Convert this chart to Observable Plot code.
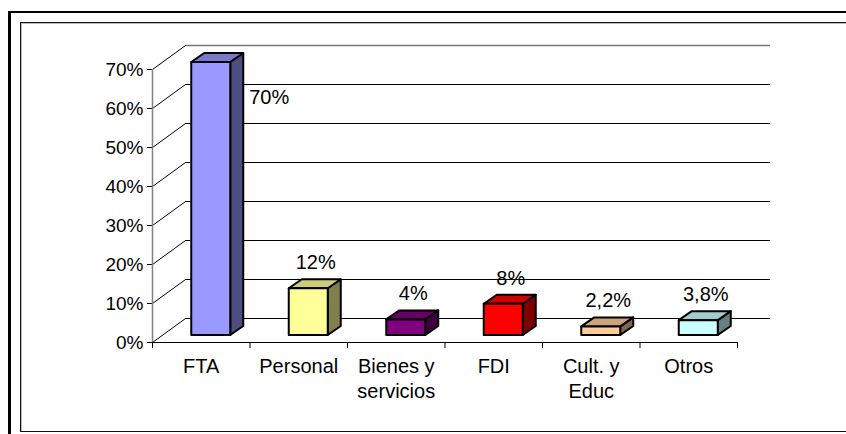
<!DOCTYPE html>
<html>
<head>
<meta charset="utf-8">
<script src="https://cdn.jsdelivr.net/npm/d3@7"></script>
<script src="https://cdn.jsdelivr.net/npm/@observablehq/plot@0.6"></script>
<style>
  html, body { margin: 0; padding: 0; overflow: hidden; background: #fff; width: 846px; height: 434px; }
  #wrap { position: relative; width: 846px; height: 434px; }
  #chart { position: absolute; left: 0; top: 0; }
  .outer { position: absolute; left: 8px; top: 11px; width: 2000px; height: 2000px;
           border-left: 3px solid #000; border-top: 2px solid #000; pointer-events: none; }
  .inner { position: absolute; left: 20px; top: 22px; width: 2000px; height: 408px;
           border: 1px solid #111; box-shadow: inset 1px 1px 0 #bbb; pointer-events: none; }
</style>
</head>
<body>
<div id="wrap">
  <div id="chart"></div>
  <div class="outer"></div>
  <div class="inner"></div>
</div>
<script>
// ---- data ----
const categories = ["FTA", "Personal", "Bienes y\nservicios", "FDI", "Cult. y\nEduc", "Otros"];
const values = [70, 12, 4, 8, 2.2, 3.8];
const valueLabels = ["70%", "12%", "4%", "8%", "2,2%", "3,8%"];
const frontColors = ["#9999FF", "#FFFF99", "#800080", "#FF0000", "#FFCC99", "#CCFFFF"];
const yTicks = [0, 10, 20, 30, 40, 50, 60, 70];

// ---- geometry (pixels) ----
const W = 846, H = 434;
const mL = 152, mR = 109, mT = 69, mB = 92;
const xDomain = [-0.5, categories.length - 0.5];
const yDomain = [0, 70];
const pxX = (W - mL - mR) / (xDomain[1] - xDomain[0]);
const pxY = (H - mT - mB) / (yDomain[1] - yDomain[0]);
const wallDx = 33 / pxX, wallDy = 24 / pxY;      // back wall offset in data units
const barDx = 13 / pxX, barDy = 9 / pxY;         // bar depth in data units
const half = 0.2;                                 // half bar width (band units)

function shade(c, k) { const r = d3.rgb(c); return d3.rgb(r.r * k, r.g * k, r.b * k).formatHex(); }

const bars = categories.map((c, i) => ({
  i, cat: c, v: values[i], label: valueLabels[i],
  front: frontColors[i], top: shade(frontColors[i], 0.8), side: shade(frontColors[i], 0.5)
}));

const sideData = bars.flatMap(b => [
  {i: b.i, c: b.side, x: b.i + half, y1: 0, y2: b.v},
  {i: b.i, c: b.side, x: b.i + half + barDx, y1: barDy, y2: b.v + barDy}
]);
const topData = bars.flatMap(b => [
  {i: b.i, c: b.top, y: b.v, x1: b.i - half, x2: b.i + half},
  {i: b.i, c: b.top, y: b.v + barDy, x1: b.i - half + barDx, x2: b.i + half + barDx}
]);
const boundaries = d3.range(categories.length + 1).map(k => k - 0.5);

const labDx = 17, labDy = -33;
const fits = b => b.v + (-labDy + 12) / pxY <= yDomain[1];

const shiftX = 10, shiftY = -7; // bar sits slightly behind the front plane
const barStyle = {stroke: "#000", strokeWidth: 2, strokeLinejoin: "round", dx: shiftX, dy: shiftY};
const font = "'Liberation Sans', Arial, sans-serif";

const chart = Plot.plot({
  width: W, height: H,
  marginLeft: mL, marginRight: mR, marginTop: mT, marginBottom: mB,
  x: {domain: xDomain, ticks: boundaries, tickFormat: () => "", tickSize: 6, label: null},
  y: {domain: yDomain, ticks: yTicks, tickFormat: d => d + "%", tickSize: 5, tickPadding: 4, label: null},
  color: {type: "identity"},
  style: {fontFamily: font, fontSize: "19px", background: "transparent", color: "#000", overflow: "visible"},
  marks: [
    // back wall gridlines
    Plot.ruleY(yTicks.slice(0, -1), {x1: xDomain[0], x2: xDomain[1], dx: 33, dy: -24, stroke: "#000", strokeWidth: 1}),
    Plot.ruleY([yTicks[yTicks.length - 1]], {x1: xDomain[0], x2: xDomain[1], dx: 33, dy: -24, stroke: "#777", strokeWidth: 1.5}),
    // side wall diagonals
    Plot.link(yTicks, {x1: xDomain[0], y1: d => d, x2: xDomain[0] + wallDx, y2: d => d + wallDy, stroke: "#000", strokeWidth: 1}),
    // vertical axis line
    Plot.ruleX([xDomain[0]], {y1: yDomain[0], y2: yDomain[1], stroke: "#808080", strokeWidth: 1.5}),
    // front floor line
    Plot.ruleY([0], {x1: xDomain[0], x2: xDomain[1], stroke: "#000", strokeWidth: 1}),
    // bars: side, top, front
    Plot.areaY(sideData, {x: "x", y1: "y1", y2: "y2", z: "i", fill: "c", ...barStyle}),
    Plot.areaX(topData, {y: "y", x1: "x1", x2: "x2", z: "i", fill: "c", ...barStyle}),
    Plot.rect(bars, {x1: b => b.i - half, x2: b => b.i + half, y1: 0, y2: "v", fill: "front", ...barStyle}),
    // value labels
    Plot.text(bars.filter(fits), {x: "i", y: "v", text: "label", dx: labDx, dy: labDy, fill: "#000", fontSize: 20}),
    Plot.text(bars.filter(b => !fits(b)), {x: "i", y: "v", text: "label", dx: 68, dy: 28, fill: "#000", fontSize: 20}),
    // category labels
    Plot.text(bars, {x: "i", y: 0, text: "cat", dy: 13, lineAnchor: "top", lineHeight: 1.25, fill: "#000", fontSize: 20})
  ]
});
document.getElementById("chart").appendChild(chart);
</script>
</body>
</html>
